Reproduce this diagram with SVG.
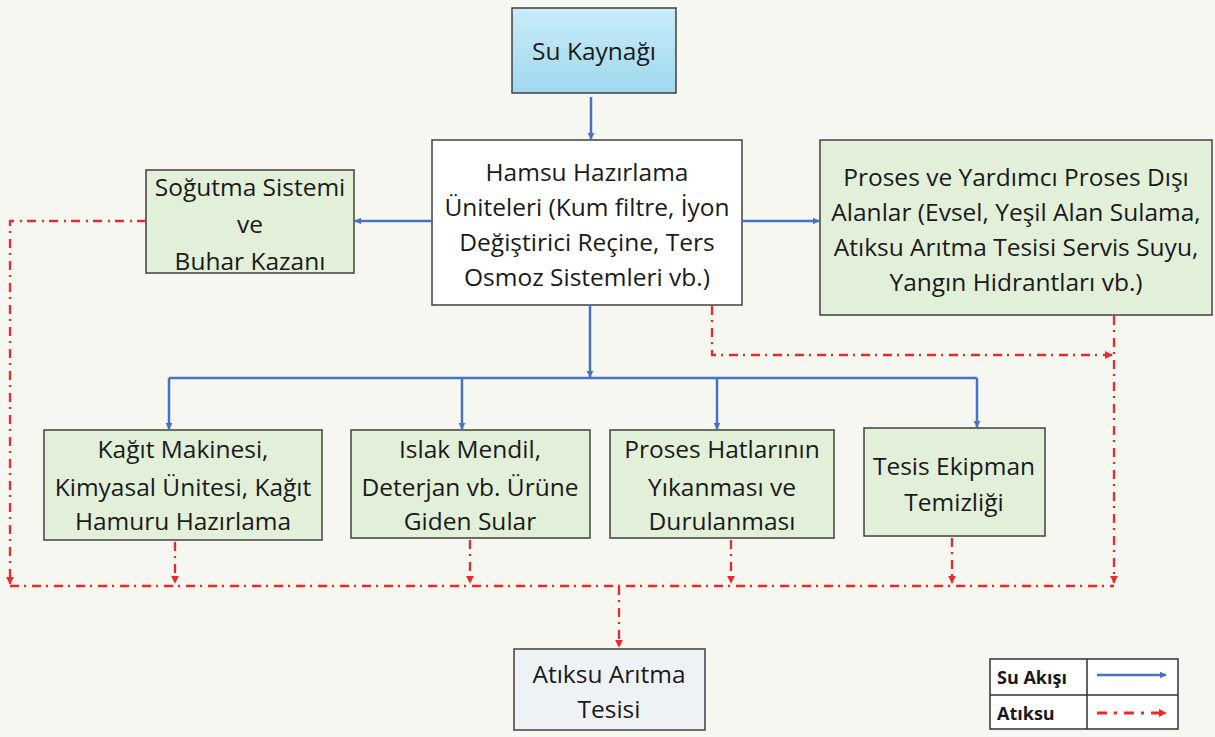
<svg xmlns="http://www.w3.org/2000/svg" width="1215" height="737" viewBox="0 0 1215 737">
<defs>
<linearGradient id="gBlue" x1="0" y1="0" x2="0" y2="1">
<stop offset="0" stop-color="#c9ecf8"/>
<stop offset="1" stop-color="#9fd8ee"/>
</linearGradient>
<marker id="aBlue" viewBox="0 0 10 10" refX="9" refY="5" markerWidth="7" markerHeight="7" orient="auto" markerUnits="userSpaceOnUse">
<path d="M0,0 L10,5 L0,10 z" fill="#4472c4"/>
</marker>
<marker id="aRed" viewBox="0 0 10 10" refX="9" refY="5" markerWidth="8" markerHeight="8" orient="auto" markerUnits="userSpaceOnUse">
<path d="M0,0 L10,5 L0,10 z" fill="#ea2a2a"/>
</marker>
</defs>
<style>
.box{stroke:#404040;stroke-width:1.5}
.green{fill:#e2efd9}
.t{font-family:"Open Sans","Noto Sans",sans-serif;font-size:24.5px;fill:#1a1a1a;text-anchor:middle}
.lg{font-family:"Open Sans","Noto Sans",sans-serif;font-size:18px;font-weight:bold;fill:#1a1a1a}
.blue{stroke:#4472c4;stroke-width:2.5;fill:none}
.red{stroke:#ea2a2a;stroke-width:2.3;fill:none;stroke-dasharray:9 5 2 6}
</style>
<rect width="1215" height="737" fill="#f7f7f2"/>

<g id="su-kaynagi">
<rect class="box" x="512" y="8" width="164" height="85" fill="url(#gBlue)"/>
<text class="t" x="594" y="60">Su Kaynağı</text>
</g>

<g id="hamsu">
<rect class="box" x="432" y="140" width="310" height="165" fill="#ffffff"/>
<text class="t" x="587" y="181">Hamsu Hazırlama</text>
<text class="t" x="587" y="216">Üniteleri (Kum filtre, İyon</text>
<text class="t" x="587" y="251">Değiştirici Reçine, Ters</text>
<text class="t" x="587" y="286">Osmoz Sistemleri vb.)</text>
</g>

<g id="sogutma">
<rect class="box green" x="146" y="170" width="208" height="103"/>
<text class="t" x="250" y="196">Soğutma Sistemi</text>
<text class="t" x="250" y="233">ve</text>
<text class="t" x="250" y="270">Buhar Kazanı</text>
</g>

<g id="proses-disi">
<rect class="box green" x="820" y="140" width="392" height="175"/>
<text class="t" x="1016" y="186">Proses ve Yardımcı Proses Dışı</text>
<text class="t" x="1016" y="221">Alanlar (Evsel, Yeşil Alan Sulama,</text>
<text class="t" x="1016" y="256">Atıksu Arıtma Tesisi Servis Suyu,</text>
<text class="t" x="1016" y="291">Yangın Hidrantları vb.)</text>
</g>

<g id="kagit">
<rect class="box green" x="44" y="430" width="278" height="110"/>
<text class="t" x="183" y="458">Kağıt Makinesi,</text>
<text class="t" x="183" y="496">Kimyasal Ünitesi, Kağıt</text>
<text class="t" x="183" y="530">Hamuru Hazırlama</text>
</g>

<g id="islak">
<rect class="box green" x="351" y="430" width="239" height="108"/>
<text class="t" x="470" y="458">Islak Mendil,</text>
<text class="t" x="470" y="496">Deterjan vb. Ürüne</text>
<text class="t" x="470" y="530">Giden Sular</text>
</g>

<g id="proses-hatlari">
<rect class="box green" x="610" y="430" width="224" height="108"/>
<text class="t" x="722" y="458">Proses Hatlarının</text>
<text class="t" x="722" y="496">Yıkanması ve</text>
<text class="t" x="722" y="530">Durulanması</text>
</g>

<g id="tesis-ekipman">
<rect class="box green" x="864" y="428" width="181" height="108"/>
<text class="t" x="954" y="475">Tesis Ekipman</text>
<text class="t" x="954" y="511">Temizliği</text>
</g>

<g id="atiksu-aritma">
<rect class="box" x="514" y="649" width="191" height="81" fill="#eef2f5"/>
<text class="t" x="609" y="683">Atıksu Arıtma</text>
<text class="t" x="609" y="718">Tesisi</text>
</g>

<g id="connectors">
<path class="blue" d="M591,97 V139" marker-end="url(#aBlue)"/>
<path class="blue" d="M432,221 H355" marker-end="url(#aBlue)"/>
<path class="blue" d="M742,221 H819" marker-end="url(#aBlue)"/>
<path class="blue" d="M590,305 V377" marker-end="url(#aBlue)"/>
<path class="blue" d="M169,378 H977"/>
<path class="blue" d="M169,378 V429" marker-end="url(#aBlue)"/>
<path class="blue" d="M462,378 V429" marker-end="url(#aBlue)"/>
<path class="blue" d="M717,378 V429" marker-end="url(#aBlue)"/>
<path class="blue" d="M977,378 V427" marker-end="url(#aBlue)"/>

<path class="red" d="M146,221 H10 V584" marker-end="url(#aRed)"/>
<path class="red" d="M712,306 V355 H1112" marker-end="url(#aRed)"/>
<path class="red" d="M1114,316 V583" marker-end="url(#aRed)"/>
<path class="red" d="M175,542 V583" marker-end="url(#aRed)"/>
<path class="red" d="M470,540 V583" marker-end="url(#aRed)"/>
<path class="red" d="M731,540 V583" marker-end="url(#aRed)"/>
<path class="red" d="M952,538 V583" marker-end="url(#aRed)"/>
<path class="red" d="M10,586 H1114"/>
<path class="red" d="M619,586 V647" marker-end="url(#aRed)"/>
</g>

<g id="legend">
<rect x="990" y="659" width="188" height="70" fill="#ffffff" stroke="#333" stroke-width="1.5"/>
<path d="M990,695 H1178 M1087,659 V729" stroke="#333" stroke-width="1.5"/>
<text class="lg" x="997" y="684">Su Akışı</text>
<text class="lg" x="997" y="720">Atıksu</text>
<path class="blue" d="M1097,675 H1166" marker-end="url(#aBlue)"/>
<path d="M1097,713 H1166" stroke="#ea2a2a" stroke-width="3" stroke-dasharray="10 7 3 7" fill="none" marker-end="url(#aRed)"/>
</g>
</svg>
